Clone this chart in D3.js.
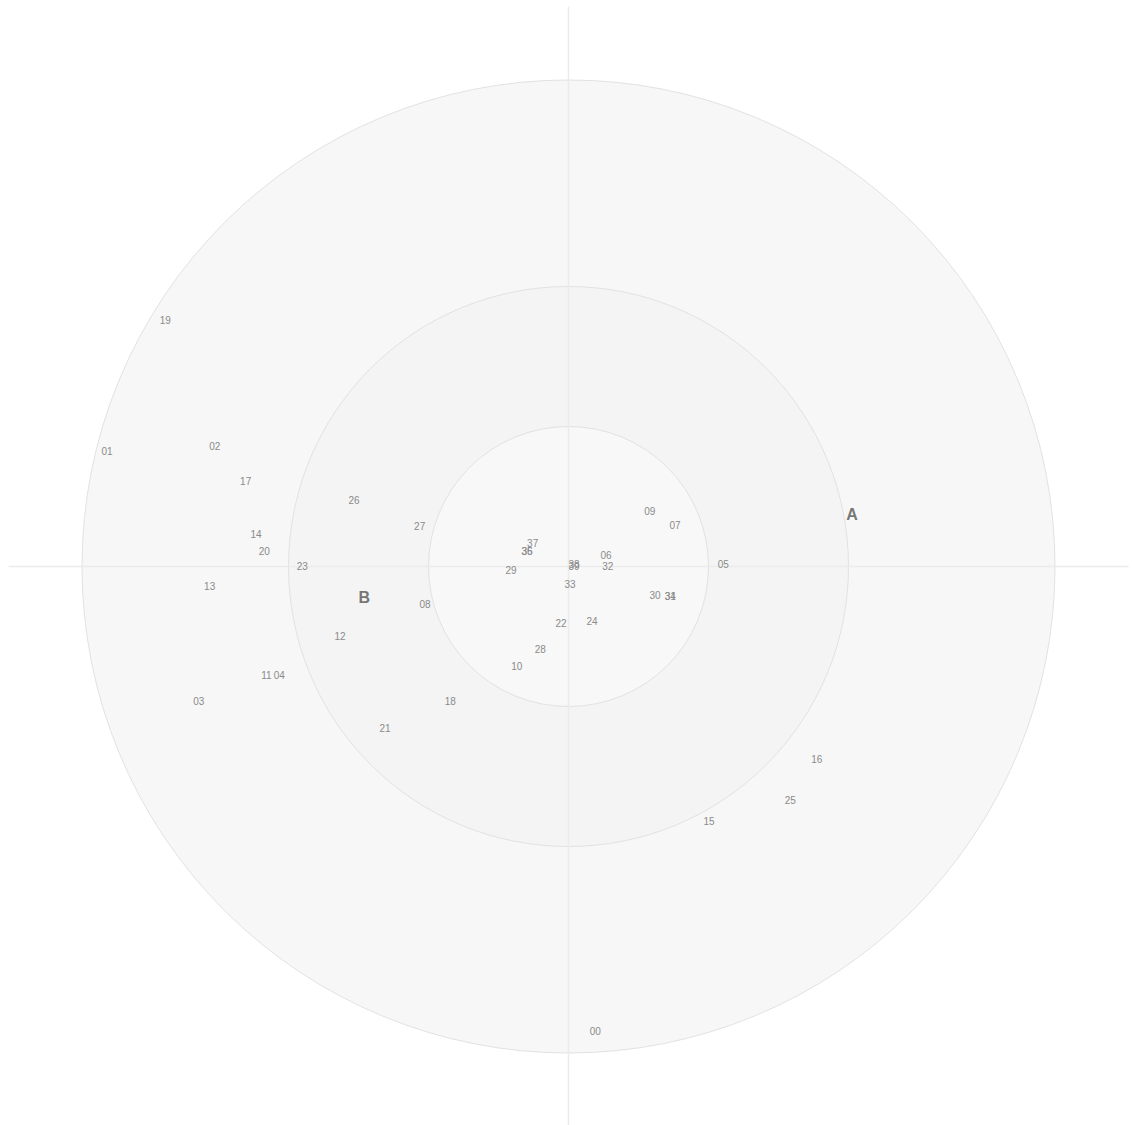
<!DOCTYPE html>
<html>
<head>
<meta charset="utf-8">
<script src="https://cdn.jsdelivr.net/npm/d3@7"></script>
<style>
  html, body { margin: 0; padding: 0; background: #fff; }
  svg { display: block; }
</style>
</head>
<body>
<svg id="chart" width="1132" height="1125"></svg>
<script>
// Point labels and their coordinates (data units)
const labels = ["00","01","02","03","04","05","06","07","08","09",
                "10","11","12","13","14","15","16","17","18","19",
                "20","21","22","23","24","25","26","27","28","29",
                "30","31","32","33","34","35","36","37","38","39"];
const xs = [0.191,-3.296,-2.527,-2.641,-2.066,1.106,0.268,0.761,-1.025,0.580,
            -0.370,-2.158,-1.632,-2.563,-2.232,1.004,1.773,-2.306,-0.844,-2.880,
            -2.173,-1.311,-0.054,-1.901,0.168,1.584,-1.532,-1.063,-0.201,-0.411,
            0.618,0.727,0.280,0.011,0.727,-0.296,-0.296,-0.256,0.039,0.039];
const ys = [-3.319,0.824,0.859,-0.962,-0.776,0.016,0.081,0.298,-0.269,0.395,
            -0.712,-0.776,-0.498,-0.138,0.231,-1.816,-1.376,0.609,-0.962,1.759,
            0.112,-1.150,-0.405,0.005,-0.391,-1.669,0.474,0.291,-0.591,-0.024,
            -0.205,-0.212,0.002,-0.126,-0.212,0.109,0.109,0.169,0.019,0.005];
// Group (variable) labels
const groupLabels = ["A","B"];
const groupX = [2.025,-1.459];
const groupY = [0.376,-0.221];
// Reference circle radii (data units), outermost first
const circleRadii = [3.475, 2, 1];
const circleFills = ["#f7f7f7", "#f4f4f4", "#f8f8f8"];
const axisExtent = 4;

const svg = d3.select("#chart");
const cx = 568.5, cy = 566.5, unit = 140;
const x = d3.scaleLinear().domain([-axisExtent, axisExtent]).range([cx - axisExtent*unit, cx + axisExtent*unit]);
const y = d3.scaleLinear().domain([-axisExtent, axisExtent]).range([cy + axisExtent*unit, cy - axisExtent*unit]);

// circles
svg.append("g").selectAll("circle")
  .data(circleRadii)
  .join("circle")
  .attr("cx", x(0)).attr("cy", y(0))
  .attr("r", d => x(d) - x(0))
  .attr("fill", (d,i) => circleFills[i])
  .attr("stroke", "#e2e2e2")
  .attr("stroke-width", 1);

// axes
const ax = svg.append("g").attr("stroke", "#ebebeb").attr("stroke-width", 1.5);
ax.append("line").attr("x1", x(-axisExtent)).attr("x2", x(axisExtent)).attr("y1", y(0)).attr("y2", y(0));
ax.append("line").attr("x1", x(0)).attr("x2", x(0)).attr("y1", y(axisExtent)).attr("y2", y(-axisExtent));

// point labels
const pts = labels.map((l,i) => ({l, x: xs[i], y: ys[i]}));
svg.append("g").selectAll("text")
  .data(pts)
  .join("text")
  .attr("x", d => x(d.x)).attr("y", d => y(d.y) + 0.5)
  .attr("text-anchor", "middle")
  .attr("dominant-baseline", "central")
  .attr("font-family", "Liberation Sans, Arial, sans-serif")
  .attr("font-size", 10)
  .attr("fill", "#8a8a8a")
  .text(d => d.l);

// group labels
const grp = groupLabels.map((l,i) => ({l, x: groupX[i], y: groupY[i]}));
svg.append("g").selectAll("text")
  .data(grp)
  .join("text")
  .attr("x", d => x(d.x)).attr("y", d => y(d.y) + 0.5)
  .attr("text-anchor", "middle")
  .attr("dominant-baseline", "central")
  .attr("font-family", "Liberation Sans, Arial, sans-serif")
  .attr("font-size", 16)
  .attr("font-weight", "bold")
  .attr("fill", "#777")
  .text(d => d.l);
</script>
</body>
</html>
